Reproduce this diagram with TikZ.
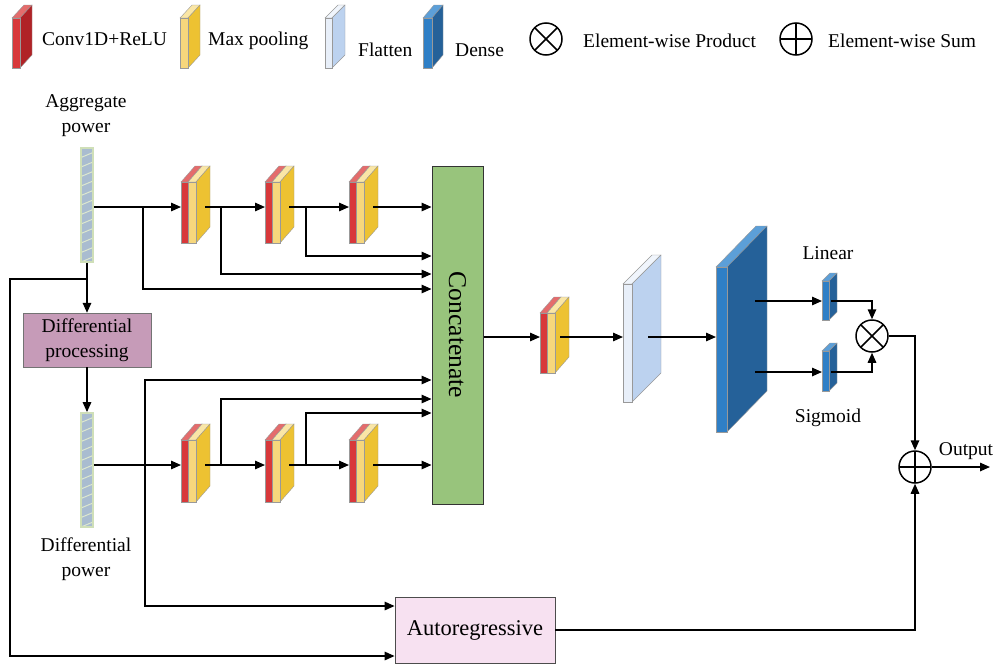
\documentclass[tikz,border=0pt]{standalone}
\usepackage{fontspec}
\setmainfont{Liberation Serif}
\usetikzlibrary{arrows.meta,calc}
\definecolor{redF}{HTML}{D8383A}
\definecolor{redS}{HTML}{B02226}
\definecolor{redT}{HTML}{E46C6C}
\definecolor{yelF}{HTML}{F7D77C}
\definecolor{yelS}{HTML}{EDC232}
\definecolor{yelT}{HTML}{FAE6A6}
\definecolor{flF}{HTML}{E8EFF9}
\definecolor{flS}{HTML}{BCD2EF}
\definecolor{flT}{HTML}{F0F5FC}
\definecolor{dnF}{HTML}{2F7FC6}
\definecolor{dnS}{HTML}{256199}
\definecolor{dnT}{HTML}{5C9FD8}
\definecolor{stripF}{HTML}{A9BCD0}
\definecolor{stripB}{HTML}{CFDFB8}
\definecolor{stripL}{HTML}{DDE8CF}
\definecolor{concatF}{HTML}{98C47C}
\definecolor{diffF}{HTML}{C69BB8}
\definecolor{arF}{HTML}{F7E1F1}
\newcommand{\slab}[9]{%
  \filldraw[slabedge, fill=#9] (#1,#2) -- ++(#5,-#6) -- ++(#4,0) -- ++(-#5,#6) -- cycle;
  \filldraw[slabedge, fill=#8] (#1+#4,#2) -- ++(#5,-#6) -- ++(0,#3-#2) -- ++(-#5,#6) -- cycle;
  \filldraw[slabedge, fill=#7] (#1,#2) rectangle (#1+#4,#3);}
\newcommand{\cpblock}[3]{%
  \slab{#1}{#2}{#3}{7}{14}{16}{redF}{redS}{redT}%
  \slab{#1+7}{#2}{#3}{8}{14}{16}{yelF}{yelS}{yelT}}
\begin{document}
\begin{tikzpicture}[x=1pt,y=-1pt,
  every node/.style={font=\fontsize{19.5}{25}\selectfont},
  slabedge/.style={draw=black!40, line width=0.4pt},
  arr/.style={line width=1.5pt, -{Triangle[length=10pt,width=8.5pt]}},
  lbl/.style={inner sep=0pt},
  strip/.style={draw=stripB, line width=1.8pt, fill=stripF, minimum width=12pt,
    minimum height=114pt, inner sep=0pt,
    path picture={\foreach \k in {0,...,12}{\draw[stripL, line width=1pt]
      ([yshift=-\k*9.5pt]path picture bounding box.north west) --
      ([yshift=-\k*9.5pt+5pt]path picture bounding box.north east);}}},
  otimesN/.style={circle, draw, line width=1.5pt, minimum size=32pt, inner sep=0pt,
    path picture={
      \draw[line width=1.5pt] ([shift={(45:16pt)}]path picture bounding box.center) -- ([shift={(225:16pt)}]path picture bounding box.center);
      \draw[line width=1.5pt] ([shift={(135:16pt)}]path picture bounding box.center) -- ([shift={(315:16pt)}]path picture bounding box.center);}},
  oplusN/.style={circle, draw, line width=1.5pt, minimum size=32pt, inner sep=0pt,
    path picture={
      \draw[line width=1.5pt] ([shift={(0:16pt)}]path picture bounding box.center) -- ([shift={(180:16pt)}]path picture bounding box.center);
      \draw[line width=1.5pt] ([shift={(90:16pt)}]path picture bounding box.center) -- ([shift={(270:16pt)}]path picture bounding box.center);}},
  boxN/.style={draw, inner sep=0pt, align=center}
]
\useasboundingbox (0,0) rectangle (996,667);

% ---------- legend ----------
\slab{12}{18}{68}{8}{12}{13}{redF}{redS}{redT}
\node[lbl, anchor=base west] (lgconv) at (42,45) {Conv1D+ReLU};
\slab{180}{18}{68}{8}{12}{13}{yelF}{yelS}{yelT}
\node[lbl, anchor=base west] (lgpool) at (208,45) {Max pooling};
\slab{325}{18}{68}{7}{13}{13}{flF}{flS}{flT}
\node[lbl, anchor=base west] (lgflat) at (358,56) {Flatten};
\slab{423}{18}{68}{9}{11}{13}{dnF}{dnS}{dnT}
\node[lbl, anchor=base west] (lgdense) at (455,56) {Dense};
\node[otimesN] (lgot) at (546,39) {};
\node[lbl, anchor=base west] (lgprod) at (583,47) {Element-wise Product};
\node[oplusN] (lgop) at (796,39) {};
\node[lbl, anchor=base west] (lgsum) at (828,47) {Element-wise Sum};

% ---------- inputs ----------
\node[lbl, align=center] (aggtxt) at (86,116) {Aggregate\\power};
\node[strip] (aggstrip) at (87,205) {};
\node[boxN, fill=diffF, draw=black!55, minimum width=128pt, minimum height=54pt] (diff) at (87,340) {Differential\\processing};
\node[strip] (diffstrip) at (87,470) {};
\node[lbl, align=center] (difftxt) at (86,559) {Differential\\power};

% ---------- conv blocks ----------
\cpblock{181}{182}{243}
\cpblock{265}{182}{243}
\cpblock{349}{182}{243}
\cpblock{181}{440}{502}
\cpblock{265}{440}{502}
\cpblock{349}{440}{502}
\cpblock{540}{313}{373}
\coordinate (b1in) at (181,207); \coordinate (b1out) at (205,207);
\coordinate (b2in) at (265,207); \coordinate (b2out) at (289,207);
\coordinate (b3in) at (349,207); \coordinate (b3out) at (373,207);
\coordinate (c1in) at (181,465); \coordinate (c1out) at (205,465);
\coordinate (c2in) at (265,465); \coordinate (c2out) at (289,465);
\coordinate (c3in) at (349,465); \coordinate (c3out) at (373,465);
\coordinate (m1in) at (540,337); \coordinate (m1out) at (560,337);

% ---------- concatenate ----------
\node[draw=black!80, line width=1pt, fill=concatF, minimum width=51pt, minimum height=338pt, inner sep=0pt] (concat) at (457.5,335) {};
\node[lbl, rotate=-90, font=\fontsize{25.6}{30}\selectfont] (concattxt) at (concat.center) {Concatenate};

% ---------- flatten, dense, linear, sigmoid ----------
\slab{623}{284}{402}{9}{29}{29}{flF}{flS}{flT}
\slab{716}{267}{432}{11}{40}{41}{dnF}{dnS}{dnT}
\slab{822}{281}{320}{7}{8}{8}{dnF}{dnS}{dnT}
\slab{822}{351}{391}{7}{8}{8}{dnF}{dnS}{dnT}
\coordinate (flin) at (623,337); \coordinate (flout) at (648,337);
\coordinate (dnin) at (716,337);
\coordinate (dnout1) at (755,301); \coordinate (dnout2) at (755,372);
\coordinate (linin) at (822,301); \coordinate (linout) at (831,301);
\coordinate (sigin) at (822,372); \coordinate (sigout) at (831,372);
\node[lbl] (lintxt) at (828,253) {Linear};
\node[lbl] (sigtxt) at (828,418) {Sigmoid};
\node[otimesN] (ot) at (872,336) {};
\node[oplusN] (op) at (915,467) {};
\node[lbl] (outtxt) at (966,451) {Output};
\coordinate (outend) at (990,467);

% ---------- autoregressive ----------
\node[boxN, fill=arF, draw=black!70, line width=0.8pt, minimum width=160pt, minimum height=66pt, font=\fontsize{22.5}{26}\selectfont] (autoreg) at (475,630) {Autoregressive};

% ---------- connectors: top row ----------
\draw[arr] (aggstrip.east |- b1in) -- (b1in);
\draw[arr] (b1out) -- (b2in);
\draw[arr] (b2out) -- (b3in);
\draw[arr] (b3out) -- (b3out -| concat.west);
\coordinate (j1) at (143,207); \coordinate (j1e) at (143,289);
\coordinate (j2) at (221,207); \coordinate (j2e) at (221,274);
\coordinate (j3) at (306,207); \coordinate (j3e) at (306,256);
\draw[arr] (j1) -- (j1e) -- (j1e -| concat.west);
\draw[arr] (j2) -- (j2e) -- (j2e -| concat.west);
\draw[arr] (j3) -- (j3e) -- (j3e -| concat.west);

% ---------- left feeds ----------
\draw[arr] (aggstrip.south) -- (diff.north);
\coordinate (s1) at (87,279); \coordinate (l1) at (10,279); \coordinate (l2) at (10,656);
\draw[arr] (s1) -- (l1) -- (l2) -- (l2 -| autoreg.west);
\draw[arr] (diff.south) -- (diffstrip.north);

% ---------- connectors: bottom row ----------
\draw[arr] (diffstrip.east |- c1in) -- (c1in);
\draw[arr] (c1out) -- (c2in);
\draw[arr] (c2out) -- (c3in);
\draw[arr] (c3out) -- (c3out -| concat.west);
\coordinate (k1) at (221,465); \coordinate (k1e) at (221,399);
\coordinate (k2) at (306,465); \coordinate (k2e) at (306,413);
\draw[arr] (k1) -- (k1e) -- (k1e -| concat.west);
\draw[arr] (k2) -- (k2e) -- (k2e -| concat.west);
\coordinate (k0) at (145,465); \coordinate (k0u) at (145,380); \coordinate (k0d) at (145,606);
\draw[arr] (k0) -- (k0u) -- (k0u -| concat.west);
\draw[arr] (k0) -- (k0d) -- (k0d -| autoreg.west);

% ---------- right part ----------
\draw[arr] (concat.east |- m1in) -- (m1in);
\draw[arr] (m1out) -- (flin);
\draw[arr] (flout) -- (dnin);
\draw[arr] (dnout1) -- (linin);
\draw[arr] (dnout2) -- (sigin);
\draw[arr] (linout) -| (ot.north);
\draw[arr] (sigout) -| (ot.south);
\draw[arr] (ot.east) -| (op.north);
\draw[arr] (autoreg.east) -| (op.south);
\draw[arr] (op.east) -- (outend);
\end{tikzpicture}
\end{document}
